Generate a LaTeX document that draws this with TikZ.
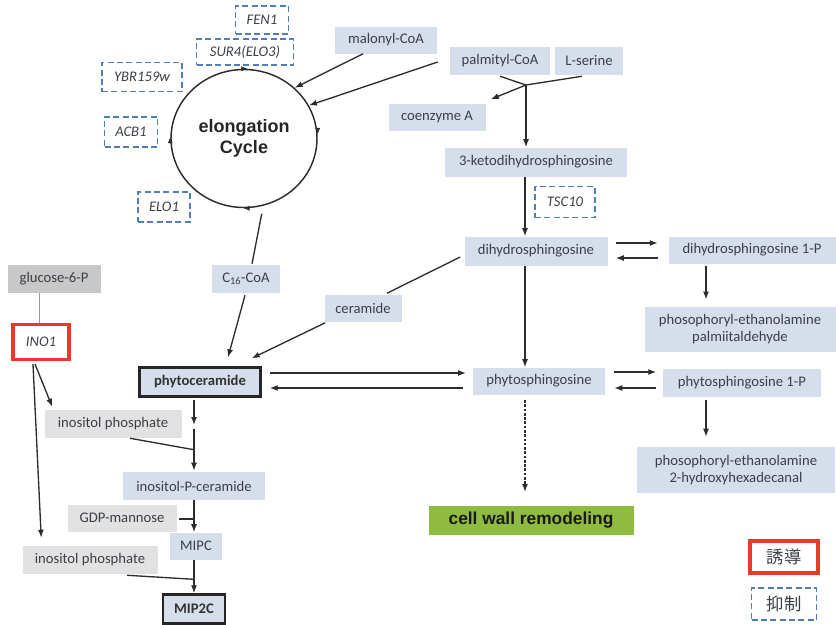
\documentclass[tikz,border=0pt]{standalone}
\usepackage{fontspec}
\setmainfont{Carlito}
\newfontfamily\arialf{Liberation Sans}
\newfontfamily\jpf{Noto Sans CJK JP}
\usetikzlibrary{arrows.meta,calc,shapes.geometric}
\definecolor{bbox}{RGB}{214,222,235}
\definecolor{gbox}{RGB}{200,200,200}
\definecolor{lgbox}{RGB}{226,226,226}
\definecolor{gfill}{RGB}{143,188,64}
\definecolor{dblue}{RGB}{79,127,184}
\definecolor{txt}{RGB}{60,64,72}
\definecolor{lnc}{RGB}{45,45,45}
\definecolor{inored}{RGB}{228,60,40}
\begin{document}
\begin{tikzpicture}[x=0.75pt,y=-0.75pt,
 wh/.style 2 args={minimum width=#1*0.75pt, minimum height=#2*0.75pt},
 base/.style={inner sep=0pt, font=\fontsize{11}{13}\selectfont, text=txt, align=center},
 bbx/.style={base, fill=bbox},
 gbx/.style={base, fill=gbox},
 lgbx/.style={base, fill=lgbox},
 gene/.style={base, draw=dblue, line width=1.1pt, dash pattern=on 4.5pt off 2.5pt, font=\fontsize{11}{13}\selectfont\itshape, fill=white},
 boldbx/.style={bbx, draw=black!85, line width=1.8pt, font=\fontsize{11}{13}\selectfont\bfseries, text=black!80},
 redbx/.style={base, draw=inored, line width=2.4pt, fill=white},
 arr/.style={draw=lnc, line width=1pt, -{Latex[length=6pt,width=4.5pt]}},
 cyt/.style={draw=lnc, line width=1pt, -{Latex[length=5pt,width=4pt]}},
 ln/.style={draw=lnc, line width=1pt},
 ]
\useasboundingbox (0,0) rectangle (836,625);

% elongation cycle
\node[ellipse, draw=lnc, line width=1.1pt, minimum width=109.5pt, minimum height=103.5pt, inner sep=0pt,
      font=\arialf\bfseries\fontsize{13.5}{16}\selectfont, align=center, text=black!85] (cyc) at (244,138.5) {elongation\\Cycle};

% gene (dashed) boxes
\node[gene, wh={53}{28}] (fen) at (262,20) {FEN1};
\node[gene, wh={97}{26}] (sur) at (245,52) {SUR4(ELO3)};
\node[gene, wh={80}{29}] (ybr) at (142,77) {YBR159w};
\node[gene, wh={53}{30}] (acb) at (131,132) {ACB1};
\node[gene, wh={52}{30}] (elo) at (164,207) {ELO1};
\node[gene, wh={60}{31}] (tsc) at (565,202) {TSC10};

% metabolite boxes
\node[bbx, wh={102}{27}] (mal) at (386,40) {malonyl-CoA};
\node[bbx, wh={100}{28}] (pal) at (500,61) {palmityl-CoA};
\node[bbx, wh={68}{28}] (ser) at (589,61) {L-serine};
\node[bbx, wh={97}{27}] (coa) at (437,117) {coenzyme A};
\node[bbx, wh={182}{29}] (keto) at (536,162) {3-ketodihydrosphingosine};
\node[bbx, wh={143}{29}] (dih) at (536,251) {dihydrosphingosine};
\node[bbx, wh={167}{27}] (dihp) at (752,250) {dihydrosphingosine 1-P};
\node[bbx, wh={191}{45}] (pe1) at (740,329) {phosophoryl-ethanolamine\\palmiitaldehyde};
\node[bbx, wh={77}{27}] (cer) at (363,308) {ceramide};
\node[bbx, wh={68}{28}] (c16) at (246,279) {C\textsubscript{16}-CoA};
\node[gbx, wh={93}{28}] (glc) at (54,279) {glucose-6-P};
\node[redbx, wh={56}{35}, font=\fontsize{11}{13}\selectfont\itshape] (ino) at (41,342) {INO1};
\node[boldbx, wh={121}{29}] (phc) at (200,382) {phytoceramide};
\node[bbx, wh={132}{27}] (phs) at (539,381) {phytosphingosine};
\node[bbx, wh={158}{28}] (phsp) at (742,383) {phytosphingosine 1-P};
\node[bbx, wh={198}{46}] (pe2) at (736,470) {phosophoryl-ethanolamine\\2-hydroxyhexadecanal};
\node[base, fill=gfill, wh={205}{29}, font=\arialf\bfseries\fontsize{13}{15}\selectfont, text=black!90] (cw) at (531,520) {cell wall remodeling};
\node[lgbx, wh={137}{28}] (ip1) at (113,424) {inositol phosphate};
\node[bbx, wh={142}{28}] (ipc) at (194,486) {inositol-P-ceramide};
\node[lgbx, wh={109}{27}] (gdp) at (122,518) {GDP-mannose};
\node[bbx, wh={52}{27}] (mipc) at (196,546) {MIPC};
\node[lgbx, wh={135}{28}] (ip2) at (90,560) {inositol phosphate};
\node[boldbx, wh={62}{29}] (mip2c) at (194,609) {MIP2C};

% legend
\node[redbx, wh={68}{32}, font=\jpf\fontsize{13}{15}\selectfont] (yudo) at (784,557) {誘導};
\node[gene, wh={65}{32}, font=\jpf\fontsize{13}{15}\selectfont] (yokusei) at (784,604) {抑制};

% cycle direction marks
\draw[cyt] ($(cyc.north)+(-3,0)$) -- ($(cyc.north)+(4,0)$);
\draw[cyt] ($(cyc.east)+(0,-10)$) -- ($(cyc.east)+(0,-4)$);
\draw[cyt] ($(cyc.south)+(5,0)$) -- ($(cyc.south)+(-1,0)$);
\draw[cyt] ($(cyc.west)+(0,4)$) -- ($(cyc.west)+(0,-2)$);

% inputs to the cycle
\draw[arr] ($(mal.south)+(-23,0)$) -- (cyc.45);
\draw[arr] ($(pal.west)+(-12,1)$) -- (cyc.27);

% serine + palmityl-CoA
\coordinate (vx) at (525,0);
\coordinate (mg) at (526,85);
\draw[ln] ($(pal.south)+(0,1)$) -- (mg);
\draw[ln] ($(ser.south)+(-7,1)$) -- (mg);
\draw[arr] (mg) -- ($(coa.north east)+(5,-4)$);
\draw[arr] (mg) -- (mg |- keto.north);
\draw[arr] (keto.south -| vx) -- (dih.north -| vx);
\draw[arr] (dih.south -| vx) -- (phs.north -| vx);
\draw[draw=lnc, line width=1pt, dash pattern=on 2pt off 1.2pt, -{Latex[length=6pt,width=4.5pt]}, shorten <=4pt, shorten >=10pt] (phs.south -| vx) -- (cw.north -| vx);

% dihydrosphingosine <-> 1-P
\draw[arr] ($(dih.east)+(8,-8)$) -- ++(42,0);
\draw[arr] ($(dih.east)+(50,7)$) -- ++(-42,0);
\draw[arr, shorten <=2pt, shorten >=5pt] ($(dihp.south)+(-46,0)$) -- ($(pe1.north)+(-34,0)$);

% phytosphingosine <-> 1-P
\draw[arr] ($(phs.east)+(9,-9)$) -- ++(42,0);
\draw[arr] ($(phs.east)+(51,7)$) -- ++(-42,0);
\draw[arr] ($(phsp.south)+(-36,3)$) -- ($(pe2.north)+(-30,-10)$);

% phytoceramide <-> phytosphingosine
\coordinate (pa) at ($(phc.east)+(8,-9)$);
\coordinate (pb) at ($(phs.west)+(-10,7)$);
\draw[arr, shorten >=5pt] (pa) -- (pa -| phs.west);
\draw[arr, shorten >=6pt] (pb) -- (pb -| phc.east);

% ceramide route
\draw[ln] ($(dih.west)+(-4,6)$) -- ($(cer.north)+(24,-1)$);
\draw[arr] ($(cer.south west)+(1,1)$) -- ($(phc.north east)+(-10,-8)$);

% C16-CoA route
\draw[ln, shorten <=6pt] (cyc.-74) -- ($(c16.north)+(6,-1)$);
\draw[arr] ($(c16.south)+(-1,2)$) -- ($(phc.north)+(28,-9)$);

% inositol branch
\draw[draw=black!40, line width=0.6pt] ($(glc.south)+(-15,0)$) -- ($(ino.north)+(-2,0)$);
\draw[arr] ($(ino.south)+(-6,3)$) -- ($(ip1.north west)+(8,-3)$);
\draw[arr] ($(ino.south)+(-8,3)$) -- ($(ip2.north west)+(19,-8)$);

\coordinate (lx) at (194,0);
\draw[arr] ($(phc.south -| lx)+(0,2)$) -- ($(ip1.east -| lx)+(0,1)$);
\draw[arr] ($(ip1.east -| lx)+(0,5)$) -- ($(ipc.north -| lx)+(0,-1)$);
\draw[ln] ($(ip1.south)+(17,0)$) -- ($(ipc.north -| lx)+(0,-22)$);
\draw[arr] (ipc.south -| lx) -- (mipc.north -| lx);
\draw[ln] ($(gdp.east)+(2,1)$) -- ($(gdp.east -| lx)+(0,1)$);
\draw[arr] (mipc.south -| lx) -- (mip2c.north -| lx);
\draw[ln] ($(ip2.south)+(37,1)$) -- ($(mip2c.north -| lx)+(0,-14)$);
\end{tikzpicture}
\end{document}
